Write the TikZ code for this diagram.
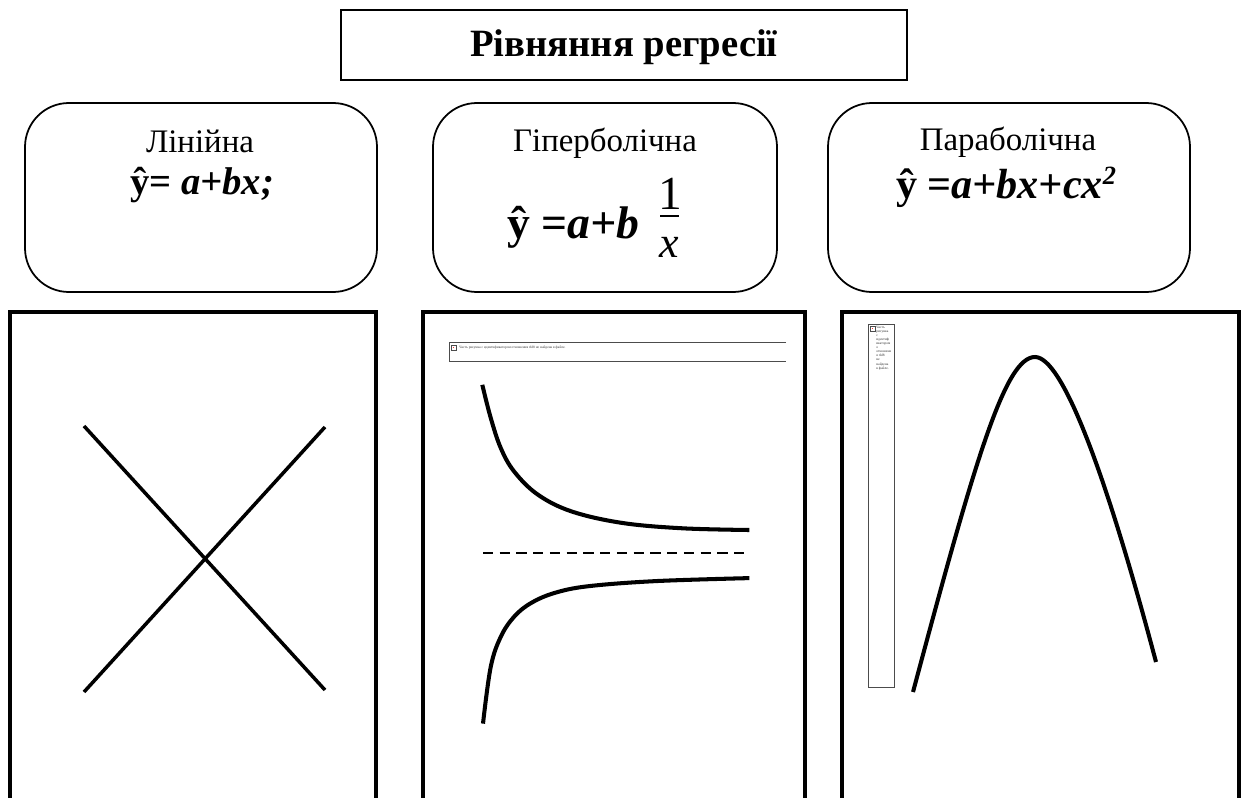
\documentclass[tikz,border=0pt]{standalone}
\usepackage{fontspec}
\setmainfont{Liberation Serif}
\begin{document}
\begin{tikzpicture}[x=0.02cm,y=-0.02cm,
  thinbox/.style={draw, line width=0.9pt},
  roundbox/.style={draw, line width=1pt, rounded corners=25pt},
  panel/.style={draw, line width=2.3pt},
  curve/.style={line width=2.3pt},
  titletext/.style={font=\fontsize{22pt}{26pt}\selectfont\bfseries, inner sep=0pt},
  labeltext/.style={font=\fontsize{18.7pt}{22pt}\selectfont, inner sep=0pt, anchor=base},
  formtext/.style={font=\fontsize{22pt}{25pt}\selectfont\bfseries, inner sep=0pt, anchor=base},
  fractext/.style={font=\fontsize{27pt}{32pt}\selectfont, inner sep=0pt, anchor=base},
  ph/.style={draw=black!70, line width=0.4pt},
  phtext/.style={font=\fontsize{2pt}{2.3pt}\selectfont, inner sep=0pt, text=black!80},
  icon/.style={draw=black!70, line width=0.3pt, fill=white}]
\useasboundingbox (0,0) rectangle (1248,798);
\clip (0,0) rectangle (1248,798);

% title
\draw[thinbox] (341,10) rectangle (907,80);
\node[titletext, anchor=base] (title) at (624,56) {Рівняння регресії};

% rounded boxes
\draw[roundbox] (25,103) rectangle (377,292);
\draw[roundbox] (433,103) rectangle (777,292);
\draw[roundbox] (828,103) rectangle (1190,292);

\node[labeltext] (l1) at (200,152) {Лінійна};
\node[formtext] (f1) at (202,194) {ŷ= \itshape a+bx;};

\node[labeltext] (l2) at (605,151) {Гіперболічна};
\node[formtext, font=\fontsize{26pt}{30pt}\selectfont\bfseries, anchor=base west] (f2) at (507,238) {ŷ =\itshape a+b};
\node[fractext] (num) at (670,209) {1};
\draw[line width=0.9pt] (660,216) -- (679,216);
\node[fractext, font=\fontsize{25pt}{30pt}\selectfont\itshape] (den) at (669,257) {x};

\node[labeltext] (l3) at (1008,150) {Параболічна};
\node[formtext, font=\fontsize{24pt}{28pt}\selectfont\bfseries] (f3) at (1006,198) {ŷ =\itshape a+bx+cx\raisebox{0.32em}{\fontsize{15pt}{18pt}\selectfont 2}};

% panels
\draw[panel] (10,312) rectangle (376,805);
\draw[panel] (423,312) rectangle (805,805);
\draw[panel] (842,312) rectangle (1239,805);

% linear X
\draw[line width=2pt] (84,426) -- (325,690);
\draw[line width=2pt] (325,427) -- (84,692);

% hyperbola placeholder
\draw[ph] (786,342) -- (449,342) -- (449,361) -- (786,361);
\draw[icon] (451,345) rectangle (456,350);
\fill[red!80] (452.6,346.6) rectangle (454.4,348.4);
\node[phtext, anchor=west] (pht) at (459,347.5) {Часть рисунка с идентификатором отношения rId8 не найдена в файле.};

% hyperbola
\draw[curve] plot[smooth, tension=0.6] coordinates {(482.3,384.8) (490.7,417.8) (500.8,448.1) (514.3,471.7) (537.8,494.6) (571.5,511.4) (622,522.9) (682.6,528.3) (749.3,530)};
\draw[line width=0.9pt, dash pattern=on 5.84pt off 3.69pt] (483,553) -- (745,553);
\draw[curve] plot[smooth, tension=0.6] coordinates {(749.3,578.1) (655.7,581.1) (588.4,586.2) (554.7,592.9) (531.1,603) (514.3,616.5) (500.8,636.7) (490.7,667) (483,723.6)};

% parabola placeholder
\draw[ph] (868,324) rectangle (894,687);
\draw[icon] (870,326) rectangle (875,331);
\fill[red!80] (871.6,327.6) rectangle (873.4,329.4);
\node[phtext, anchor=north west, align=left] (pvt) at (876,326) {Часть\\рисунка\\с\\идентиф\\икатором\\о\\отношени\\я rId8\\не\\найдена\\в файле.};

% parabola
\draw[curve] (913,692) .. controls (975,460) and (1005,357) .. (1035,357)
             .. controls (1062,357) and (1105,470) .. (1156,662);
\end{tikzpicture}
\end{document}
